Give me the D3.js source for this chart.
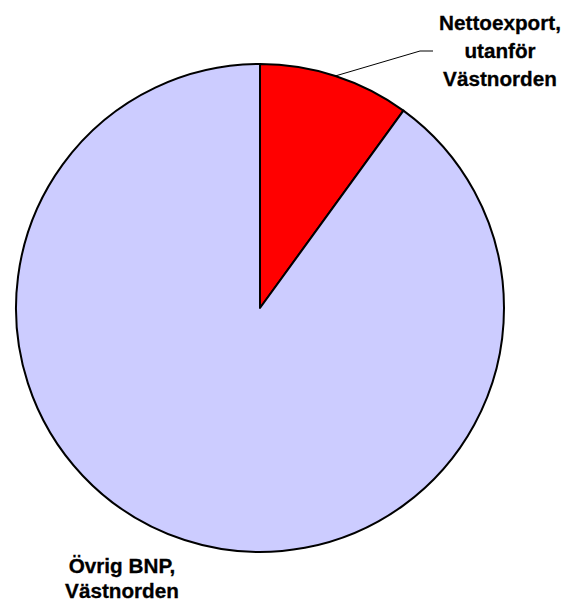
<!DOCTYPE html>
<html><head><meta charset="utf-8">
<script src="https://cdn.jsdelivr.net/npm/d3@7"></script>
<style>body{margin:0;background:#fff}</style>
</head><body>
<svg id="c" width="566" height="603"></svg>
<script>
const categories = ["Nettoexport, utanför Västnorden", "Övrig BNP, Västnorden"];
const values = [10, 90];
const colors = ["#ff0000", "#ccccff"];
const labelLines = [["Nettoexport,", "utanför", "Västnorden"], ["Övrig BNP,", "Västnorden"]];

const svg = d3.select("#c");
const cx = 260, cy = 308, r = 244;
const pie = d3.pie().sort(null).value(d => d)(values);
const arc = d3.arc().innerRadius(0).outerRadius(r);
const g = svg.append("g").attr("transform", `translate(${cx},${cy})`);
g.selectAll("path").data(pie).enter().append("path")
  .attr("d", arc).attr("fill", (d,i) => colors[i])
  .attr("stroke", "#000").attr("stroke-width", 2).attr("stroke-linejoin","round");

// leader line for first slice
const a0 = pie[0];
const mid = (a0.startAngle + a0.endAngle) / 2;
const pOuter = [Math.sin(mid) * r + cx, -Math.cos(mid) * r + cy];
svg.append("polyline")
  .attr("points", `${pOuter[0]},${pOuter[1]} 420,51 433,51`)
  .attr("fill","none").attr("stroke","#000").attr("stroke-width",1);

const font = "Arial, 'Liberation Sans', sans-serif";
const labelPos = [{x: 500, y: 30, dy: 28}, {x: 122, y: 573, dy: 25}];
labelLines.forEach((lines, i) => {
  const t = svg.append("text").attr("text-anchor","middle")
    .attr("font-family", font).attr("font-weight","bold").attr("font-size", 20.7).attr("fill","#000")
    .attr("stroke","#000").attr("stroke-width",0.3);
  lines.forEach((ln, j) => t.append("tspan").attr("x", labelPos[i].x).attr("y", labelPos[i].y + j*labelPos[i].dy).text(ln));
});
</script>
</body></html>
